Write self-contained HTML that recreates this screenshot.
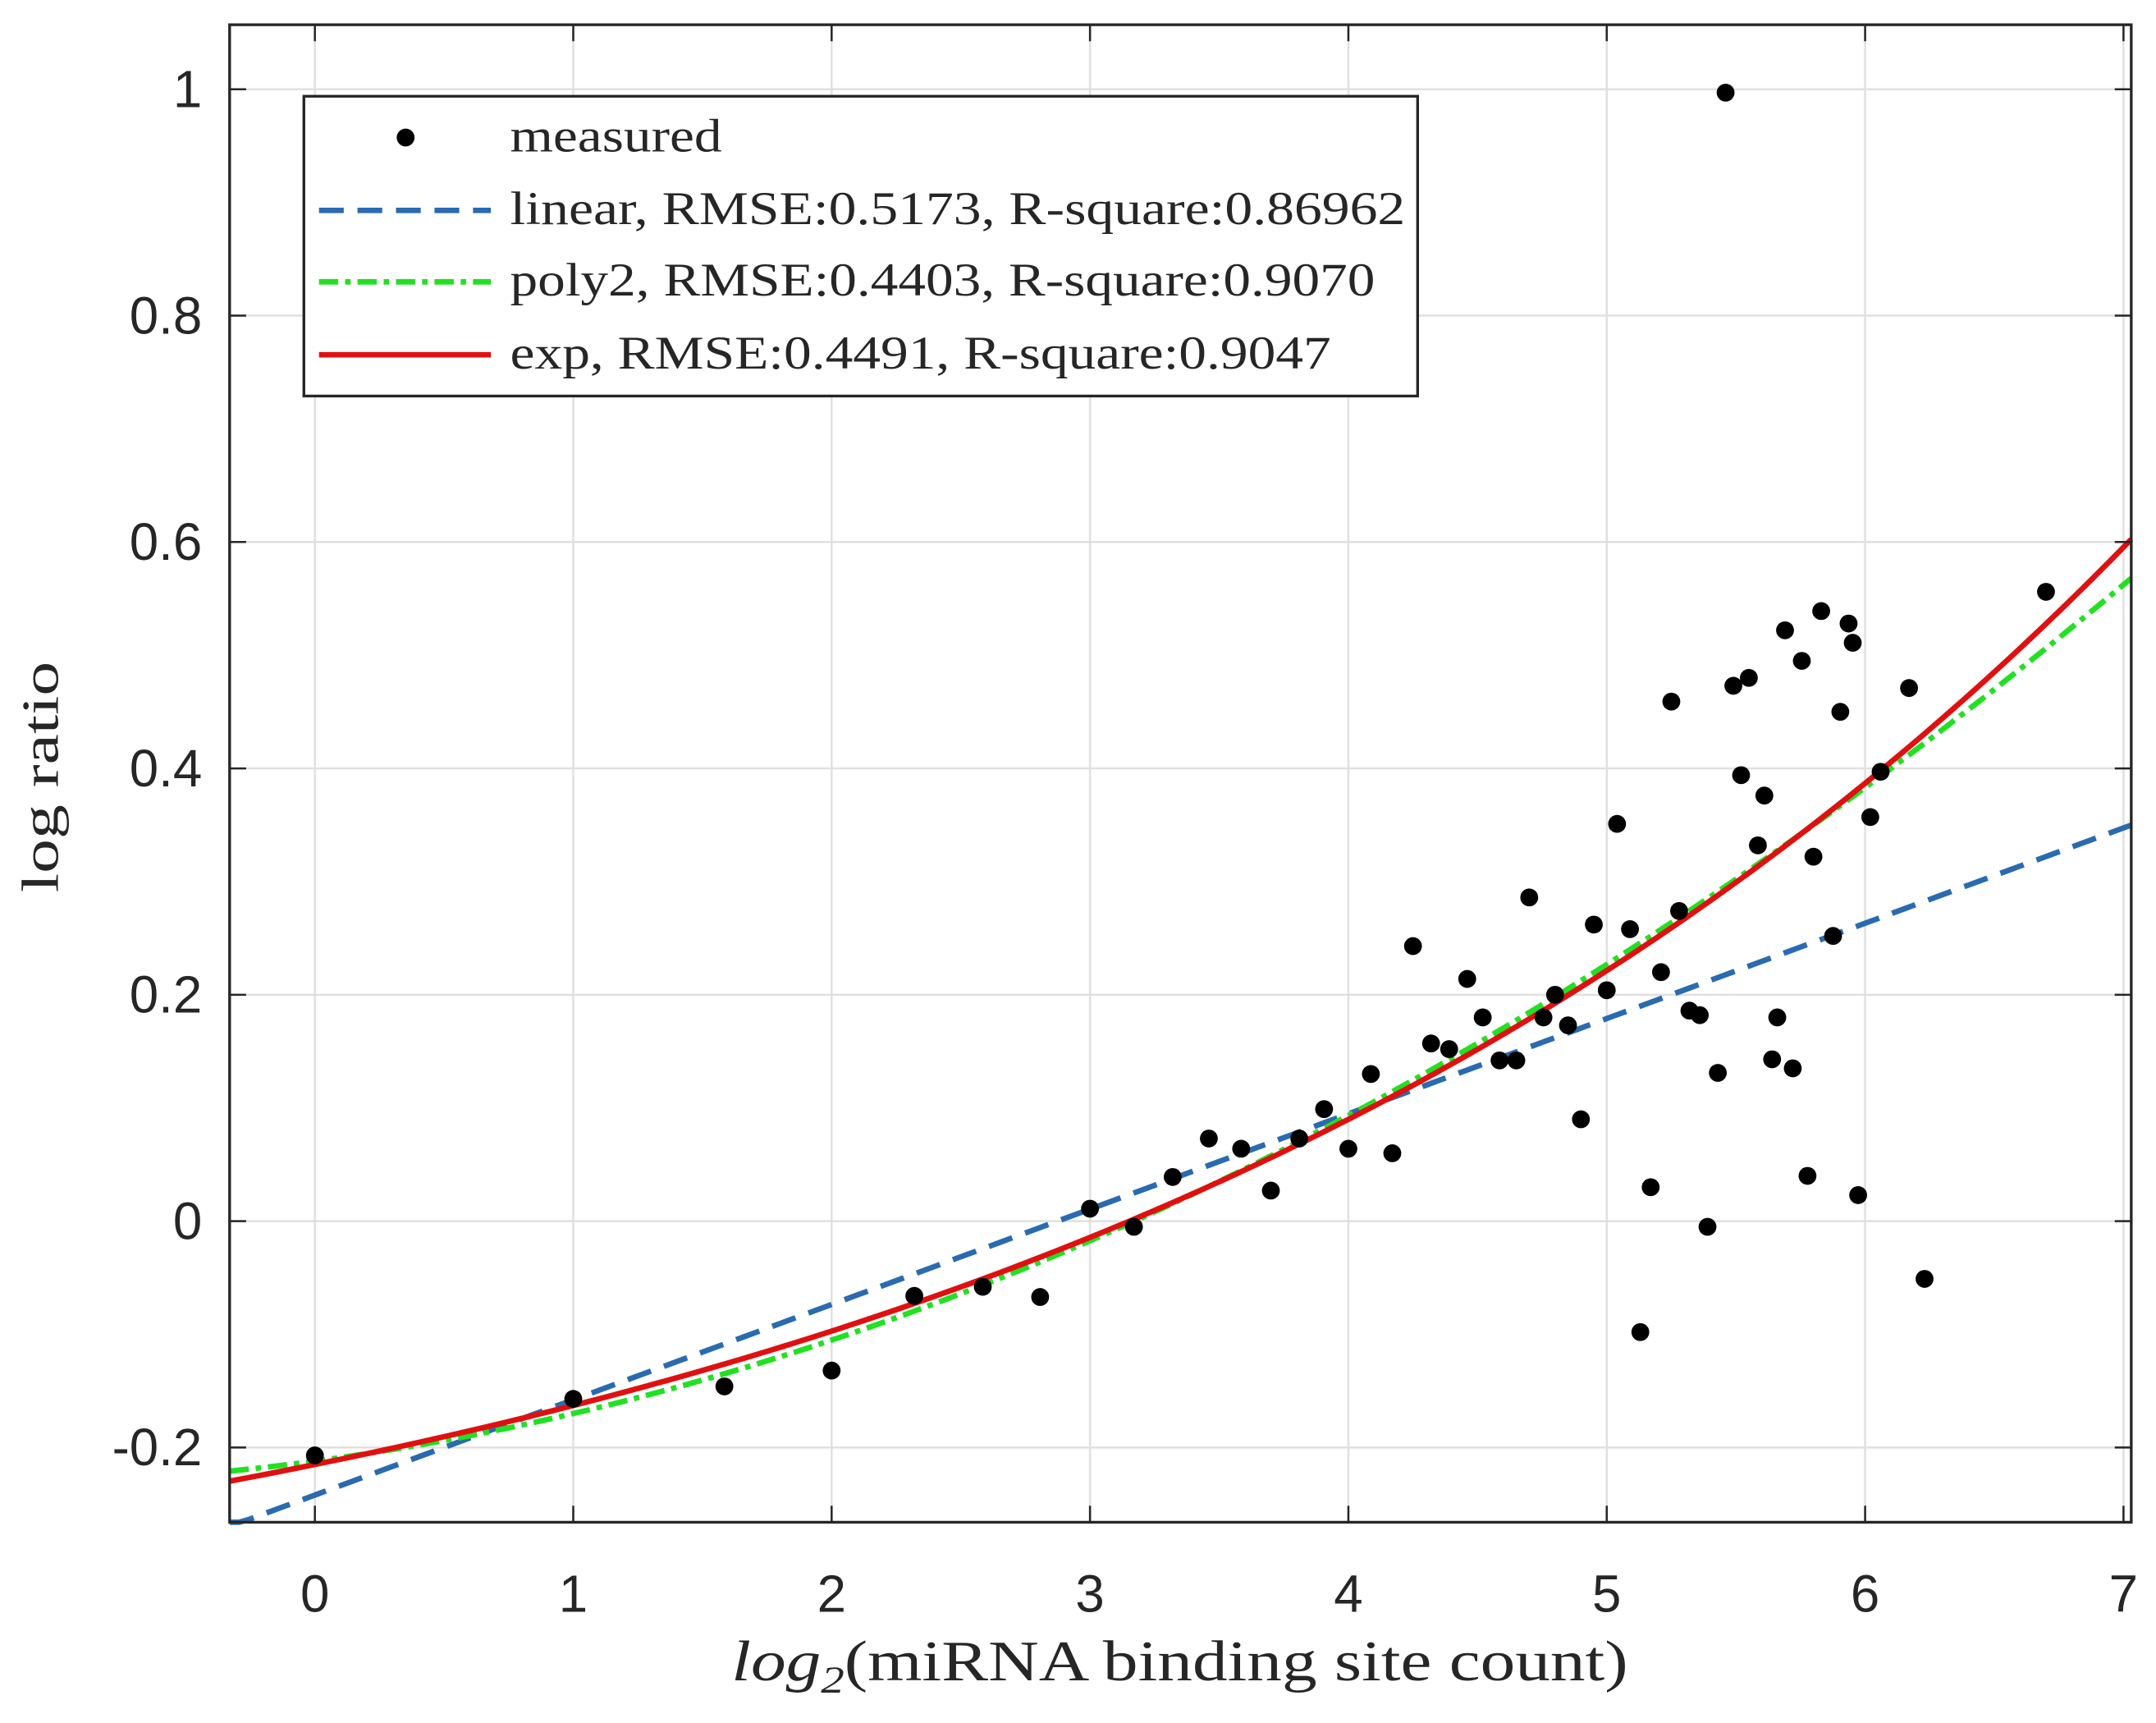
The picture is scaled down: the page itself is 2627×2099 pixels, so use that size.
<!DOCTYPE html>
<html><head><meta charset="utf-8"><style>
html,body{margin:0;padding:0;background:#fff;}
svg{display:block;}
.tick{font-family:"Liberation Sans",sans-serif;font-size:38px;fill:#262626;}
.ser{font-family:"Liberation Serif",serif;fill:#262626;}
</style></head><body>
<svg id="chart" width="2627" height="2099" viewBox="0 0 1568 1253" preserveAspectRatio="none" xmlns="http://www.w3.org/2000/svg">
<rect x="0" y="0" width="1568" height="1253" fill="#fff"/>
<g id="grid"></g>
<g id="curves"></g>
<g id="points"></g>
<rect x="167" y="18" width="1383" height="1089" fill="none" stroke="#262626" stroke-width="2"/>
<g id="ticks"></g>
<text class="ser" x="532" y="1222" font-size="42" textLength="652" lengthAdjust="spacingAndGlyphs"><tspan font-style="italic">log</tspan><tspan font-style="italic" font-size="28" dy="9">2</tspan><tspan dy="-9">(miRNA binding site count)</tspan></text>
<text class="ser" transform="translate(42,565) rotate(-90)" text-anchor="middle" font-size="38" textLength="168" lengthAdjust="spacingAndGlyphs">log ratio</text>
<g>
<rect x="221" y="70" width="810" height="218" fill="#fff" stroke="#262626" stroke-width="2"/>
<g>
<circle cx="295" cy="100" r="6.5" fill="#000"/>
<text class="ser" x="371" y="110" font-size="34" textLength="154" lengthAdjust="spacingAndGlyphs">measured</text></g>
<g>
<line x1="232" y1="153" x2="357" y2="153" stroke="#2a6bb0" stroke-width="4" stroke-dasharray="18,10"/>
<text class="ser" x="371" y="163" font-size="34" textLength="651" lengthAdjust="spacingAndGlyphs">linear, RMSE:0.5173, R-square:0.86962</text></g>
<g>
<line x1="232" y1="205" x2="357" y2="205" stroke="#22e022" stroke-width="4" stroke-dasharray="14,5,4,5"/>
<text class="ser" x="371" y="215" font-size="34" textLength="629" lengthAdjust="spacingAndGlyphs">poly2, RMSE:0.4403, R-square:0.9070</text></g>
<g>
<line x1="232" y1="258" x2="357" y2="258" stroke="#e01010" stroke-width="4"/>
<text class="ser" x="371" y="268" font-size="34" textLength="597" lengthAdjust="spacingAndGlyphs">exp, RMSE:0.4491, R-square:0.9047</text></g>
</g>
</svg>
<script>
const xTicks=[0,1,2,3,4,5,6,7];
const yTicks=[-0.2,0,0.2,0.4,0.6,0.8,1];
const yTickLabels=["-0.2","0","0.2","0.4","0.6","0.8","1"];
const ptsX=[0,1,1.585,2,2.32,2.585,2.807,3,3.17,3.32,3.46,3.585,3.70,3.81,3.906,4,4.087,4.17,4.25,4.32,4.39,4.46,4.52,4.585,4.65,4.70,4.755,4.80,4.85,4.90,4.95,5,5.04,5.09,5.13,5.17,5.21,5.25,5.28,5.32,5.36,5.39,5.43,5.46,5.49,5.52,5.55,5.585,5.61,5.64,5.66,5.69,5.72,5.755,5.777,5.80,5.83,5.876,5.904,5.936,5.952,5.973,6.02,6.06,6.17,6.23,6.70];
const ptsY=[-0.207,-0.157,-0.146,-0.132,-0.066,-0.058,-0.067,0.011,-0.005,0.039,0.073,0.064,0.027,0.073,0.099,0.064,0.130,0.060,0.243,0.157,0.152,0.214,0.180,0.142,0.142,0.286,0.180,0.200,0.173,0.090,0.262,0.204,0.351,0.258,-0.098,0.030,0.220,0.459,0.274,0.186,0.182,-0.005,0.131,0.997,0.473,0.394,0.480,0.332,0.376,0.143,0.180,0.522,0.135,0.495,0.040,0.322,0.539,0.252,0.450,0.528,0.511,0.023,0.357,0.397,0.471,-0.051,0.556];
const linearCoef=[-0.242,0.0842];
const poly2Coef=[-0.212,0.0306,0.01143];
const expCoef=[0.2007,0.231,-0.4157];
const xMin=-0.33,xMax=7.03,yMin=-0.266,yMax=1.057;
const L=167,R=1550,T=18,B=1107;
function sx(v){return L+(v-xMin)/(xMax-xMin)*(R-L);}
function sy(v){return B-(v-yMin)/(yMax-yMin)*(B-T);}
const NS="http://www.w3.org/2000/svg";
function mk(tag,attrs,parent){const e=document.createElementNS(NS,tag);for(const k in attrs)e.setAttribute(k,attrs[k]);parent.appendChild(e);return e;}
const grid=document.getElementById('grid'),ticks=document.getElementById('ticks');
xTicks.forEach(function(t){
  const g=mk('line',{x1:sx(t),x2:sx(t),y1:T,y2:B,stroke:'#e0e0e0','stroke-width':1.5},grid);
  
  
  const a=mk('line',{x1:sx(t),x2:sx(t),y1:B,y2:B-12,stroke:'#262626','stroke-width':1.5},ticks);
  
  
  const b=mk('line',{x1:sx(t),x2:sx(t),y1:T,y2:T+12,stroke:'#262626','stroke-width':1.5},ticks);
  
  
  const tx=mk('text',{x:sx(t),y:1172,'text-anchor':'middle','class':'tick'},ticks);
  tx.textContent=String(t);
  
  
});
yTicks.forEach(function(t,i){
  const g=mk('line',{x1:L,x2:R,y1:sy(t),y2:sy(t),stroke:'#e0e0e0','stroke-width':1.5},grid);
  
  
  const a=mk('line',{x1:L,x2:L+12,y1:sy(t),y2:sy(t),stroke:'#262626','stroke-width':1.5},ticks);
  
  
  const b=mk('line',{x1:R,x2:R-12,y1:sy(t),y2:sy(t),stroke:'#262626','stroke-width':1.5},ticks);
  
  
  const tx=mk('text',{x:147,y:sy(t)+13,'text-anchor':'end','class':'tick'},ticks);
  tx.textContent=yTickLabels[i];
  
  
});
const curves=document.getElementById('curves');
function curve(f,style,name){
  let d='';
  for(let i=0;i<=200;i++){const x=xMin+(xMax-xMin)*i/200;let y=f(x);y=Math.max(yMin,Math.min(yMax,y));d+=(i?'L':'M')+sx(x).toFixed(2)+' '+sy(y).toFixed(2);}
  style.d=d;style.fill='none';
  const p=mk('path',style,curves);
  
  
}
curve(x=>linearCoef[0]+linearCoef[1]*x,{stroke:'#2a6bb0','stroke-width':4,'stroke-dasharray':'18,10'},'linear-fit-line');
curve(x=>poly2Coef[0]+poly2Coef[1]*x+poly2Coef[2]*x*x,{stroke:'#22e022','stroke-width':4,'stroke-dasharray':'14,5,4,5'},'poly2-fit-line');
curve(x=>expCoef[0]*Math.exp(expCoef[1]*x)+expCoef[2],{stroke:'#e01010','stroke-width':4},'exp-fit-line');
const pts=document.getElementById('points');
ptsX.forEach(function(x,i){
  const c=mk('circle',{cx:sx(x),cy:sy(ptsY[i]),r:6.5,fill:'#000'},pts);
  
  
});
</script>
</body></html>
